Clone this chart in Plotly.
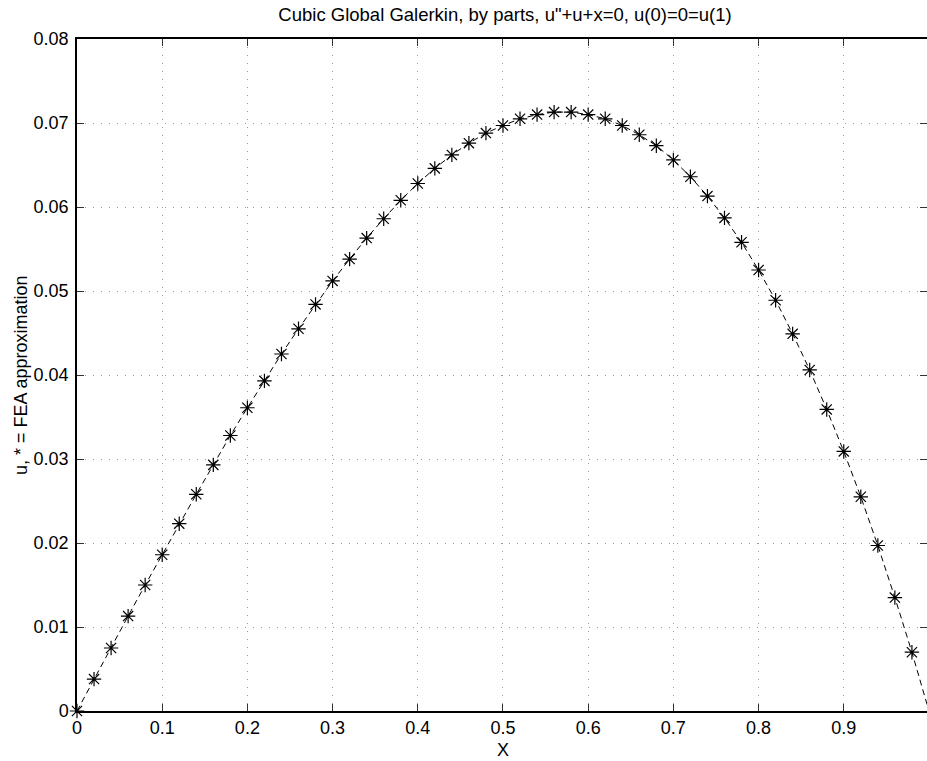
import plotly.graph_objects as go

x_fea = [0.00, 0.02, 0.04, 0.06, 0.08, 0.10, 0.12, 0.14, 0.16, 0.18,
         0.20, 0.22, 0.24, 0.26, 0.28, 0.30, 0.32, 0.34, 0.36, 0.38,
         0.40, 0.42, 0.44, 0.46, 0.48, 0.50, 0.52, 0.54, 0.56, 0.58,
         0.60, 0.62, 0.64, 0.66, 0.68, 0.70, 0.72, 0.74, 0.76, 0.78,
         0.80, 0.82, 0.84, 0.86, 0.88, 0.90, 0.92, 0.94, 0.96, 0.98, 1.00]
u_fea = [0.0000, 0.0038, 0.0075, 0.0113, 0.0150, 0.0186, 0.0223, 0.0258, 0.0293, 0.0328,
         0.0361, 0.0393, 0.0425, 0.0455, 0.0484, 0.0512, 0.0538, 0.0563, 0.0586, 0.0608,
         0.0628, 0.0646, 0.0662, 0.0676, 0.0688, 0.0697, 0.0705, 0.0710, 0.0713, 0.0713,
         0.0710, 0.0705, 0.0697, 0.0686, 0.0673, 0.0656, 0.0636, 0.0613, 0.0587, 0.0558,
         0.0525, 0.0489, 0.0449, 0.0406, 0.0359, 0.0309, 0.0255, 0.0197, 0.0135, 0.0070, 0.0000]

x_exact = x_fea
u_exact = u_fea

xticks = [0, 0.1, 0.2, 0.3, 0.4, 0.5, 0.6, 0.7, 0.8, 0.9]
yticks = [0, 0.01, 0.02, 0.03, 0.04, 0.05, 0.06, 0.07, 0.08]
xtick_text = ["0", "0.1", "0.2", "0.3", "0.4", "0.5", "0.6", "0.7", "0.8", "0.9"]
ytick_text = ["0", "0.01", "0.02", "0.03", "0.04", "0.05", "0.06", "0.07", "0.08"]

fig = go.Figure()
fig.add_trace(go.Scatter(x=x_exact, y=u_exact, mode="lines",
                         line=dict(color="black", width=1, dash="6px,4px"),
                         showlegend=False))
fig.add_trace(go.Scatter(x=x_fea, y=u_fea, mode="markers",
                         marker=dict(symbol="asterisk-open", size=12, color="black",
                                     line=dict(color="black", width=1.2)),
                         showlegend=False, cliponaxis=False))

font = "Liberation Sans, Arial, sans-serif"
axis_common = dict(showline=True, linecolor="black", linewidth=1.5, mirror="ticks",
                   ticks="inside", ticklen=7, tickcolor="#333333", tickwidth=1,
                   showgrid=True, gridcolor="#999999", griddash="1px,7px", gridwidth=1,
                   zeroline=False, automargin=False,
                   tickfont=dict(family=font, size=18, color="black"))

fig.update_layout(
    width=927, height=761,
    margin=dict(l=77, r=0, t=39, b=50),
    paper_bgcolor="white", plot_bgcolor="white",
    title=dict(text='Cubic Global Galerkin, by parts, u"+u+x=0, u(0)=0=u(1)',
               x=0.5448, xanchor="center", y=0.9803, yanchor="middle",
               font=dict(family=font, size=18.5, color="black")),
    xaxis=dict(range=[0, 0.9977], tickvals=xticks, ticktext=xtick_text, **axis_common),
    yaxis=dict(range=[0, 0.08], tickvals=yticks, ticktext=ytick_text,
               ticklabelstandoff=3, **axis_common),
    annotations=[
        dict(text="X", xref="x", yref="paper", x=0.5, y=0, yshift=-39,
             xanchor="center", yanchor="middle", showarrow=False,
             font=dict(family=font, size=18, color="black")),
        dict(text="u, * = FEA approximation", xref="paper", yref="paper",
             x=0, y=0.5, xshift=-56, xanchor="center", yanchor="middle",
             textangle=-90, showarrow=False,
             font=dict(family=font, size=18, color="black")),
    ],
)

fig.write_html("out.html",
               config={"displayModeBar": False},
               post_script="document.body.style.margin='0';document.body.style.overflow='hidden';")
